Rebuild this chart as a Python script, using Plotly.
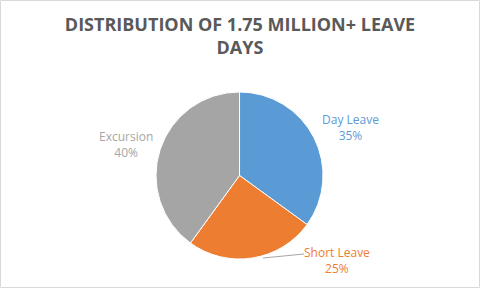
import plotly.graph_objects as go

categories = ["Day Leave", "Short Leave", "Excursion"]
shares = [35, 25, 40]
colors = ["#5B9BD5", "#ED7D31", "#A5A5A5"]
title_text = "DISTRIBUTION OF 1.75 MILLION+ LEAVE<br>DAYS"

W, H = 480, 288

fig = go.Figure(go.Pie(
    labels=categories,
    values=shares,
    sort=False,
    direction="clockwise",
    rotation=0,
    marker=dict(colors=colors, line=dict(color="white", width=1)),
    textinfo="none",
    hoverinfo="label+percent",
    showlegend=False,
    domain=dict(x=[0.325, 0.673], y=[0.1007, 0.6806]),
))

# label anchors (pixel centers)
label_xy = [(350, 127.5), (337, 260), (126, 144)]
total = sum(shares)
for cat, val, col, (px, py) in zip(categories, shares, colors, label_xy):
    fig.add_annotation(
        x=px / W, y=1 - py / H, xref="paper", yref="paper",
        text=f"{cat}<br>{round(val / total * 100)}%",
        showarrow=False, xanchor="center", yanchor="middle",
        font=dict(family="Open Sans", size=12, color=col),
        align="center",
    )

# leader line for Short Leave
fig.add_shape(type="line", xref="paper", yref="paper",
              x0=263 / W, y0=1 - 258 / H, x1=304 / W, y1=1 - 254 / H,
              line=dict(color="#A6A6A6", width=1))

# chart border
fig.add_shape(type="rect", xref="paper", yref="paper",
              x0=0.5 / W, y0=0.5 / H, x1=1 - 0.5 / W, y1=1 - 0.5 / H,
              line=dict(color="#D9D9D9", width=1))

fig.update_layout(
    width=W, height=H,
    margin=dict(l=0, r=0, t=0, b=0),
    paper_bgcolor="white",
    plot_bgcolor="white",
    title=dict(
        text=f"<b>{title_text}</b>",
        x=0.5, xanchor="center",
        y=1 - 31 / H, yanchor="middle",
        font=dict(family="Open Sans", size=18, color="#595959"),
    ),
)

fig.write_html("out.html")
